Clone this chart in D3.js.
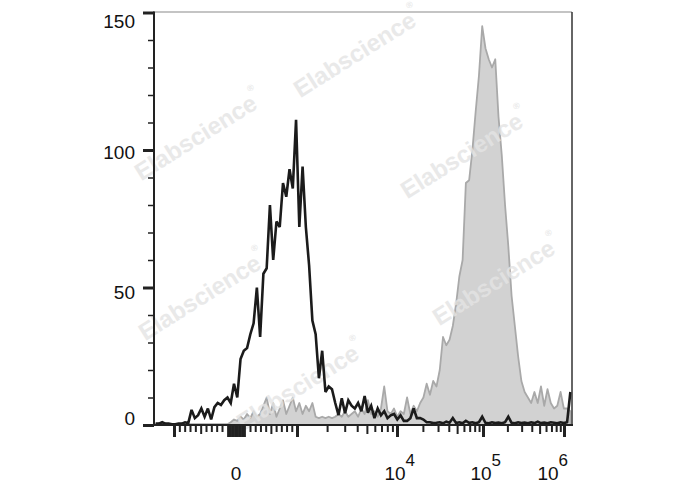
<!DOCTYPE html>
<html><head><meta charset="utf-8">
<script src="https://cdn.jsdelivr.net/npm/d3@7"></script>
<style>
html,body{margin:0;padding:0;background:#fff;}
svg{display:block;font-family:"Liberation Sans",Arial,sans-serif;}
</style></head>
<body><svg id="chart" width="688" height="490"></svg>
<script>
// ---- data: histogram counts in 128 channel bins (8 channels each, 0..1024) ----
const binWidth = 8;
const unstained = [0.5,0.5,1,0.5,0.5,0.3,0.3,0.5,0.5,1,0.7,
  5.5,2.5,3.6,6,3,6,2,6.5,8,7.3,9,10,
  8,15,10,24,27,28,33,37,50,32,55,57,
  80,60,74,72,88,83,93,86,111,72,94,72,
  58,38,33,17,27,12,14,13,8,3.6,9.7,4.3,
  9,7,6,8,5,10.5,4.5,7,2.5,6,3.5,5,
  2.5,3.5,4,2,3.5,1.5,1.5,2.5,6,2.5,2.5,2,1,1,0.7,
  0.8,1,0.6,1.2,0.8,2.5,0.7,1,0.6,1.5,0.8,1,0.6,1,3,0.8,0.6,1,0.7,0.9,0.6,1,3,0.8,0.6,1,0.7,0.9,0.6,1,0.7,1.2,0.7,0.9,0.6,1,0.8,0.6,1,0.7,1,12];
const stained = [0.3,0.3,0.3,0.3,0.3,0.3,0.3,0.3,0.3,0.3,0.3,0.3,0.3,0.3,0.3,0.3,0.3,0.3,0.3,0.3,0.3,0.3,0.3,
  1,2,1.5,3,2,4,2.5,5,3,4,7,10,
  4,8,3,6,9,4,7,10,5,8,4,7,
  5,8,3,2.5,3,2.5,3,2.5,3,4,3,5,
  3,4,5,3,6,4,9,4,5,3,6,14,
  5,4,6,3,5,4,10,4,7,5,8,10,
  15,11,16,14,20,32,29,31,36,44,54,60,
  88,89,100,114,127,145,137,133,130,133,112,98,
  80,65,47,36,25,16,12,10,8,12,8,14,
  7,13,8,6,7,12,6,6,5];
// axis ticks
const yMajor = [0,50,100,150];
const yMinor = [10,20,30,40,60,70,80,90,110,120,130,140];
const xMajorVals = [-1000,1000,1e4,1e5,1e6];
const xZeroVals = [-60,-50,-40,-30,-20,-10,0,10,20,30,40,50,60];
const xMidVals = [-500,500,5e3,5e4,5e5];
const xMinorVals = [-900,-800,-700,-600,-400,-300,-200,-100,100,200,300,400,600,700,800,900,
  2e3,3e3,4e3,6e3,7e3,8e3,9e3,2e4,3e4,4e4,6e4,7e4,8e4,9e4,2e5,3e5,4e5,6e5,7e5,8e5,9e5];
const xLabels = [{v:0,base:"0",exp:""},{v:1e4,base:"10",exp:"4"},{v:1e5,base:"10",exp:"5"},{v:1e6,base:"10",exp:"6"}];
// biexponential display: knots (value -> channel)
const biexKnotVals = [-1000,-100,100,1000,1e4,1e5,1e6];
const biexKnotChannels = [49,166.6,235.2,350.3,595.3,806,1004.4];
const watermarks = [[357,52],[198,135],[464,153],[202,295],[496,280],[300,385]];

// ---- layout ----
const svg = d3.select("#chart");
const L=154, R=572, T=12.5, B=425;
const x = d3.scaleLinear().domain([0,1024]).range([L,R]);
const y = d3.scaleLinear().domain([0,150]).range([B,T]);
const tr = v => Math.abs(v)<=1000 ? v : Math.sign(v)*1000*(1+Math.log10(Math.abs(v)/1000));
const biex = d3.scaleLinear().domain(biexKnotVals.map(tr)).range(biexKnotChannels);
const ch = v => biex(tr(v));

const pts = arr => arr.map((c,i)=>({ch:i*binWidth+binWidth/2, c}));

// stained (gray filled)
const area = d3.area().x(d=>x(d.ch)).y0(y(0)).y1(d=>y(d.c));
const line = d3.line().x(d=>x(d.ch)).y(d=>y(d.c));
svg.append("path").datum(pts(stained)).attr("d",area)
  .attr("fill","#d2d2d2").attr("stroke","#a9a9a9").attr("stroke-width",1.8).attr("stroke-linejoin","round");

// watermarks
svg.append("g").selectAll("text").data(watermarks).join("text")
  .attr("transform",d=>`translate(${d[0]},${d[1]}) rotate(-32)`)
  .attr("text-anchor","middle").attr("dominant-baseline","central")
  .attr("font-size",24).attr("font-weight","bold")
  .attr("fill","#e4e4e4").attr("opacity",0.8)
  .each(function(){
    const t=d3.select(this);
    t.append("tspan").text("Elabscience");
    t.append("tspan").attr("font-size",9).attr("dy",-12).text("®");
  });

// unstained (black line)
svg.append("path").datum(pts(unstained)).attr("d",line)
  .attr("fill","none").attr("stroke","#1b1b1b").attr("stroke-width",2.6).attr("stroke-linejoin","miter").attr("stroke-miterlimit",3);

// frame
svg.append("line").attr("x1",L).attr("x2",R).attr("y1",T-0.5).attr("y2",T-0.5).attr("stroke","#8a8a8a").attr("stroke-width",1.2);
svg.append("line").attr("x1",R).attr("x2",R).attr("y1",T-0.5).attr("y2",B).attr("stroke","#333").attr("stroke-width",1.5);

// y axis
function styleAxis(g,w){ g.select(".domain").remove(); g.selectAll("text").remove(); g.selectAll("line").attr("stroke","#222").attr("stroke-width",w); }
svg.append("g").attr("transform",`translate(${L},0)`)
  .call(d3.axisLeft(y).tickValues(yMinor).tickSize(6)).call(g=>styleAxis(g,1.5));
svg.append("g").attr("transform",`translate(${L},0)`)
  .call(d3.axisLeft(y).tickValues(yMajor).tickSize(11)).call(g=>styleAxis(g,3));
svg.append("line").attr("x1",L).attr("x2",L).attr("y1",T-1).attr("y2",B+1).attr("stroke","#222").attr("stroke-width",2);
const yLabOff = {0:-7,50:5,100:2,150:9};
svg.append("g").selectAll("text").data(yMajor).join("text")
  .attr("x",135).attr("y",d=>y(d)+yLabOff[d]).attr("text-anchor","end").attr("dominant-baseline","central")
  .attr("font-size",19).attr("fill","#111").text(d=>d);

// x axis
const xAxisG = (vals,size,w) => svg.append("g").attr("transform",`translate(0,${B})`)
  .call(d3.axisBottom(x).tickValues(vals.map(ch)).tickSize(size)).call(g=>styleAxis(g,w));
xAxisG(xMinorVals,7,2);
xAxisG(xMidVals,9,2);
xAxisG(xZeroVals,12,2);
xAxisG(xMajorVals,12,3);
svg.append("line").attr("x1",L-9).attr("x2",R+1).attr("y1",B).attr("y2",B).attr("stroke","#222").attr("stroke-width",2);

// labels: base centred near the tick, exponent to its right
svg.append("g").selectAll("text").data(xLabels).join("text")
  .attr("y",480).attr("font-size",19).attr("fill","#111")
  .each(function(d){
    const t=d3.select(this);
    const b=t.append("tspan").text(d.base);
    if(d.exp) t.append("tspan").attr("dy",-14).attr("font-size",17).text(d.exp);
    const bw=b.node().getComputedTextLength();
    let x0 = x(ch(d.v)) - bw/2 - (d.exp?2:0);
    const full=this.getComputedTextLength();
    if(x0+full>R-4) x0=R-4-full;
    t.attr("x",x0);
  });
</script></body></html>
